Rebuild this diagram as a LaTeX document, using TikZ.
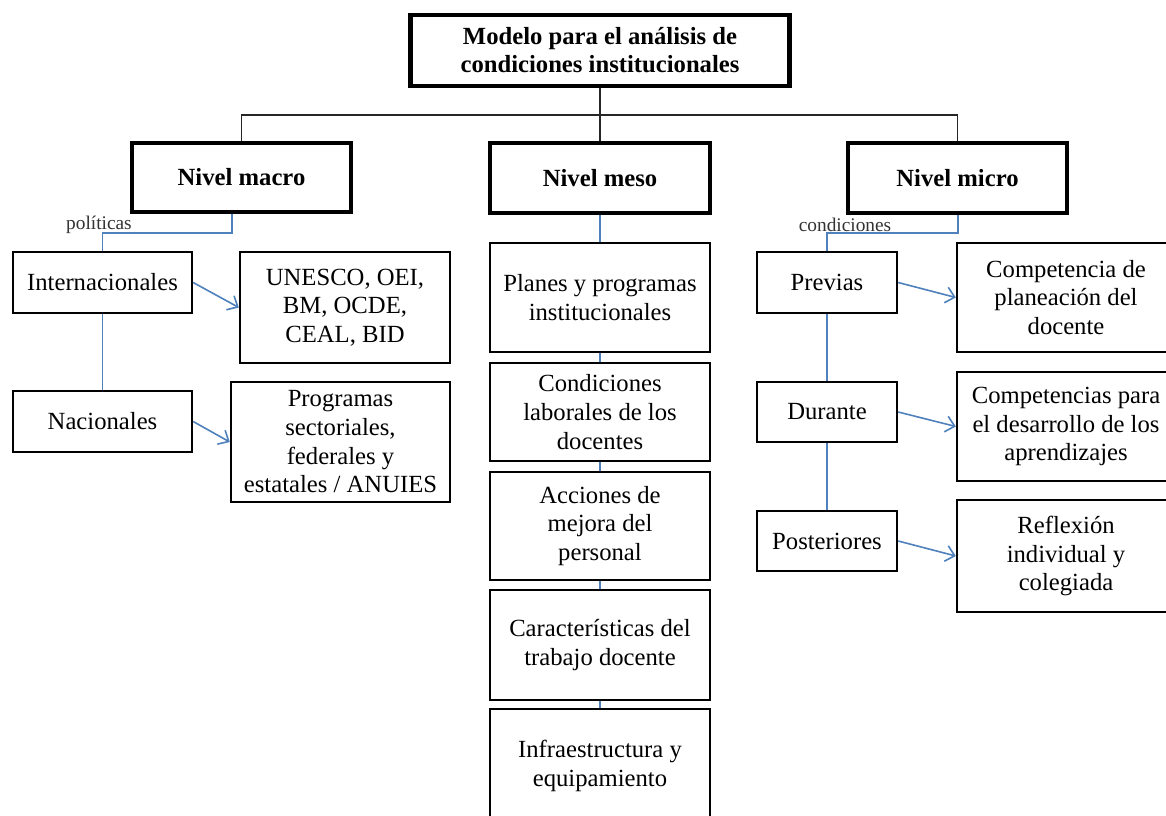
\documentclass[tikz,border=0pt]{standalone}
\usepackage{fontspec}
\setmainfont{Liberation Serif}
\usetikzlibrary{calc,arrows.meta}
\definecolor{lineblue}{RGB}{79,129,189}
\begin{document}
\begin{tikzpicture}[x=0.75pt,y=-0.75pt,
  sz/.style 2 args={minimum width=#1*0.75pt,minimum height=#2*0.75pt},
  box/.style={draw,line width=1.8pt,rectangle,align=center,inner sep=0pt,font=\fontsize{18.5}{21.5}\selectfont},
  lvl/.style={box,line width=3.2pt,font=\fontsize{18.5}{21}\selectfont\bfseries},
  conn/.style={line width=1.1pt,draw=black!85},
  bl/.style={line width=1.2pt,draw=lineblue},
  arr/.style={bl,-{Straight Barb[length=6.5pt,width=12pt,line width=1.2pt]}},
  lab/.style={font=\fontsize{14.5}{16}\selectfont,text=black!80,inner sep=0pt}]
\useasboundingbox (0,0) rectangle (1166,815);
\fill[white] (0,0) rectangle (1166,815);
\clip (0,0) rectangle (1166,815);

% level boxes
\node[lvl,sz={379}{71}] (top) at (600,50.5) {Modelo para el análisis de\\condiciones institucionales};
\node[lvl,sz={219}{69}] (macro) at (241.5,177.5) {Nivel macro};
\node[lvl,sz={220}{70}] (meso) at (600,178) {Nivel meso};
\node[lvl,sz={219}{70}] (micro) at (957.5,178) {Nivel micro};

% macro column
\node[box,sz={179}{61}] (intl) at (102.5,282.5) {Internacionales};
\node[box,sz={210}{111}] (unesco) at (345,307.5) {UNESCO, OEI,\\BM, OCDE,\\CEAL, BID};
\node[box,sz={179}{61}] (nac) at (102.5,421.5) {Nacionales};
\node[box,sz={219}{120}] (prog) at (340.5,442) {Programas\\sectoriales,\\federales y\\estatales / ANUIES};

% meso column
\node[box,sz={220}{109}] (planes) at (600,297.5) {Planes y programas\\institucionales};
\node[box,sz={220}{98}] (cond) at (600,412) {Condiciones\\laborales de los\\docentes};
\node[box,sz={220}{108}] (acc) at (600,526) {Acciones de\\mejora del\\personal};
\node[box,sz={220}{110}] (car) at (600,645) {Características del\\trabajo docente};
\node[box,sz={220}{114}] (infra) at (600,766) {Infraestructura y\\equipamiento};

% micro column
\node[box,sz={140}{61}] (prev) at (827,282.5) {Previas};
\node[box,sz={140}{60}] (dur) at (827,412) {Durante};
\node[box,sz={140}{60}] (post) at (827,541) {Posteriores};
\node[box,sz={218}{109}] (comp1) at (1066,297.5) {Competencia de\\planeación del\\docente};
\node[box,sz={218}{109}] (comp2) at (1066,426.5) {Competencias para\\el desarrollo de los\\aprendizajes};
\node[box,sz={218}{112}] (refl) at (1066,556) {Reflexión\\individual y\\colegiada};

% labels
\node[lab] (lpol) at (99,225) {políticas};
\node[lab] (lcond) at (845,225) {condiciones};

% black connectors
\coordinate (bar) at (600,115);
\draw[conn] (top.south) -- (meso.north);
\draw[conn] (macro.north) -- (macro.north |- bar) -- (micro.north |- bar) -- (micro.north);

% blue connectors
\coordinate (pm) at (232,233);
\draw[bl] (macro.south -| pm) -- (pm) -| (intl.north);
\draw[bl] (intl.south) -- (nac.north);
\coordinate (cm) at (958,233);
\draw[bl] (micro.south -| cm) -- (cm) -| (prev.north);
\draw[bl] (prev.south) -- (dur.north);
\draw[bl] (dur.south) -- (post.north);
\draw[bl] (meso.south) -- (planes.north);
\draw[bl] (planes.south) -- (cond.north);
\draw[bl] (cond.south) -- (acc.north);
\draw[bl] (acc.south) -- (car.north);
\draw[bl] (car.south) -- (infra.north);

% arrows
\draw[arr] (intl.east) -- (unesco.west);
\draw[arr] (nac.east) -- (prog.west);
\draw[arr] (prev.east) -- (comp1.west);
\draw[arr] (dur.east) -- (comp2.west);
\draw[arr] (post.east) -- (refl.west);
\end{tikzpicture}
\end{document}
